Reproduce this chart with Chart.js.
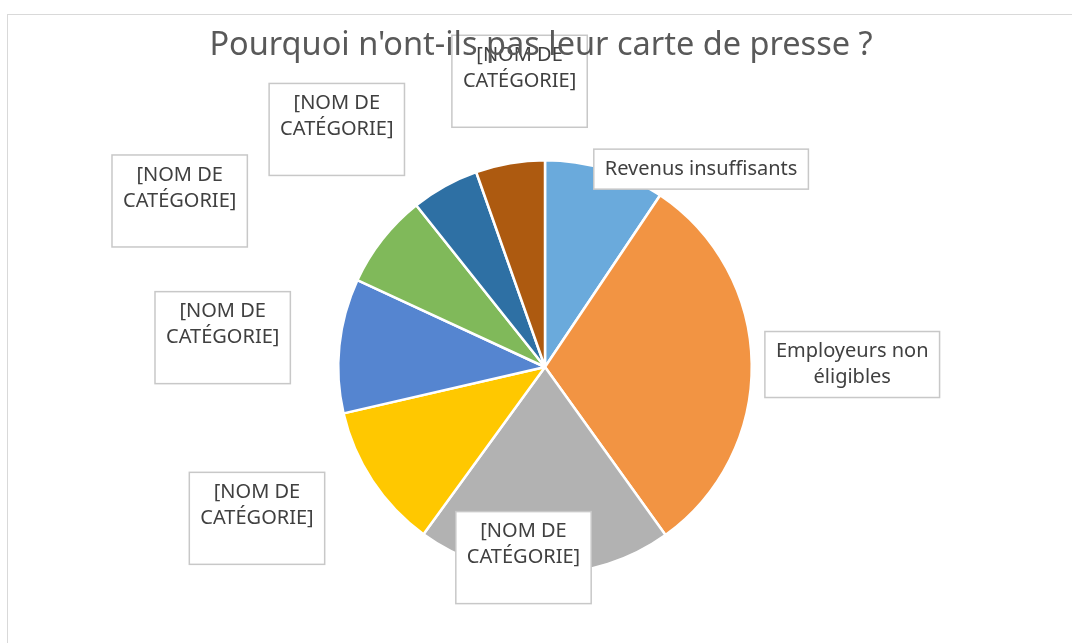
<!DOCTYPE html>
<html>
<head>
<meta charset="utf-8">
<script src="https://cdn.jsdelivr.net/npm/chart.js@4"></script>
<style>
  html, body { margin: 0; padding: 0; background: #fff; overflow: hidden; }
  #frame { position: absolute; left: 7px; top: 14px; width: 1100px; height: 700px; border: 1px solid #d9d9d9; }
  #wrap { position: absolute; left: 0; top: 0; width: 1072px; height: 643px; }
</style>
</head>
<body>
<div id="frame"></div>
<div id="wrap"><canvas id="pie"></canvas></div>
<script>
// Categories (label lines as shown in the chart) and their shares
const categories = [
  ["Revenus insuffisants"],
  ["Employeurs non", "éligibles"],
  ["[NOM DE", "CATÉGORIE]"],
  ["[NOM DE", "CATÉGORIE]"],
  ["[NOM DE", "CATÉGORIE]"],
  ["[NOM DE", "CATÉGORIE]"],
  ["[NOM DE", "CATÉGORIE]"],
  ["[NOM DE", "CATÉGORIE]"]
];
const shares = [9.4, 30.7, 19.9, 11.4, 10.5, 7.4, 5.3, 5.4];
const colors = ["#6aaadc", "#f29443", "#b2b2b2", "#ffc800", "#5585d0", "#80b95a", "#2e70a4", "#ad5a10"];
const title = "Pourquoi n'ont-ils pas leur carte de presse ?";

// Label box centres relative to the pie centre, in units of the radius
const labelPosX = [0.755, 1.486, -0.104, -1.393, -1.559, -1.767, -1.007, -0.123];
const labelPosY = [-0.957, -0.012, 0.922, 0.732, -0.142, -0.803, -1.149, -1.382];
// Empty row below the text (Excel leaves one in the placeholder labels)
const blankRows = [0, 0, 1, 1, 1, 1, 1, 1];

const labelFont = "20px 'Noto Sans'";
const titleFont = "32.5px 'Noto Sans'";
const lineH = 26;

// Draw the data labels as bordered boxes, then the title over them
const boxLabels = {
  id: "boxLabels",
  afterDatasetsDraw(chart) {
    const arc = chart.getDatasetMeta(0).data[0];
    const cx = arc.x, cy = arc.y, r = arc.outerRadius;
    const ctx = chart.ctx;
    ctx.save();
    ctx.font = labelFont;
    ctx.textAlign = "center";
    ctx.textBaseline = "middle";
    chart.data.labels.forEach((lines, i) => {
      const w = Math.max(...lines.map(t => ctx.measureText(t).width)) + 22;
      const rows = lines.length + blankRows[i];
      const h = rows * lineH + 14;
      const x = cx + labelPosX[i] * r - w / 2;
      const y = cy + labelPosY[i] * r - h / 2;
      ctx.fillStyle = "#fff";
      ctx.fillRect(x, y, w, h);
      ctx.strokeStyle = "#c8c8c8";
      ctx.lineWidth = 1.5;
      ctx.strokeRect(x, y, w, h);
      ctx.fillStyle = "#404040";
      lines.forEach((t, k) => ctx.fillText(t, x + w / 2, y + 7 + lineH * (k + 0.5)));
    });
    // chart title
    ctx.font = titleFont;
    ctx.fillStyle = "#595959";
    ctx.fillText(title, cx - 4, 46);
    ctx.restore();
  }
};

new Chart(document.getElementById("pie"), {
  type: "pie",
  data: {
    labels: categories,
    datasets: [{
      data: shares,
      backgroundColor: colors,
      borderColor: "#fff",
      borderWidth: 2.5
    }]
  },
  options: {
    responsive: true,
    maintainAspectRatio: false,
    animation: false,
    layout: { padding: { left: 337, right: 319, top: 159, bottom: 68 } },
    plugins: {
      legend: { display: false },
      tooltip: { enabled: false },
      title: { display: false }
    }
  },
  plugins: [boxLabels]
});
</script>
</body>
</html>
